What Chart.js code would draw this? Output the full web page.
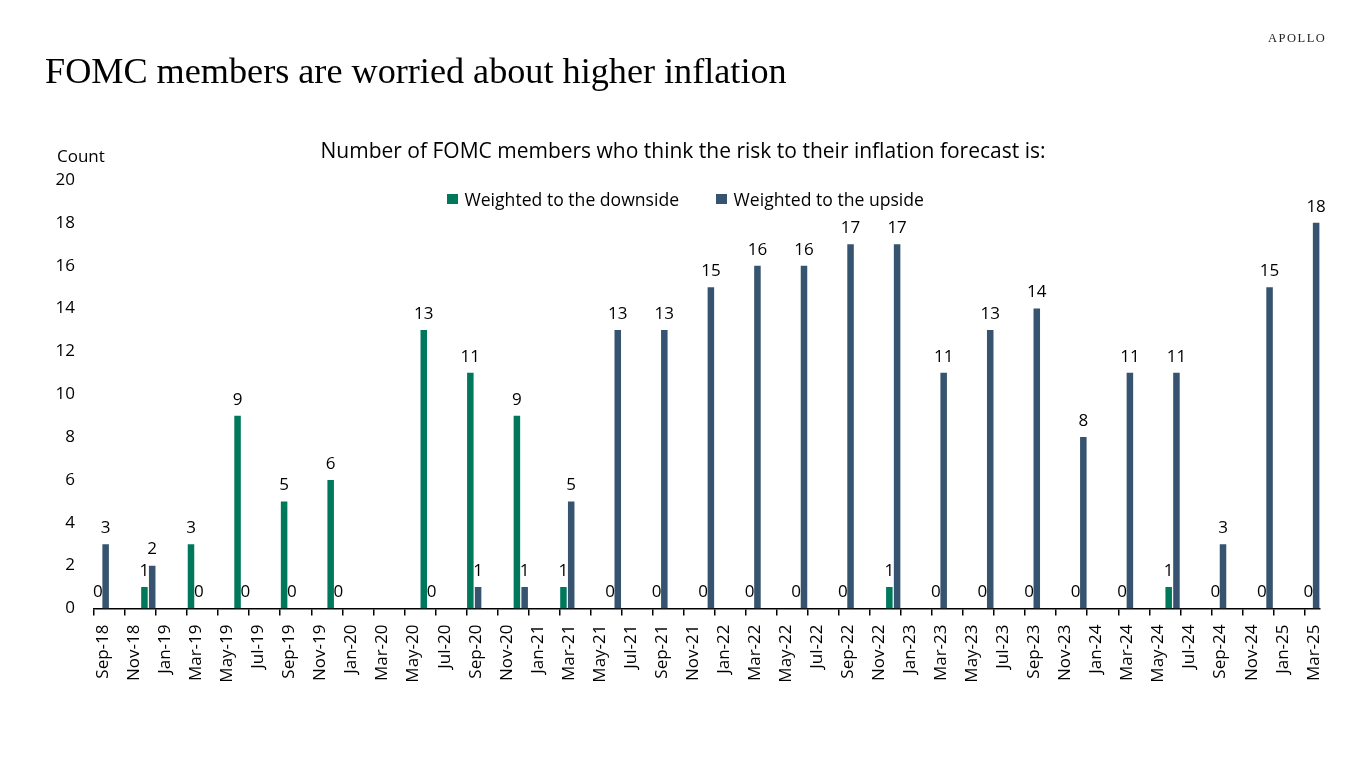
<!DOCTYPE html>
<html><head><meta charset="utf-8">
<script src="https://cdn.jsdelivr.net/npm/chart.js@4.4.1/dist/chart.umd.min.js"></script>
<style>
html,body{margin:0;padding:0;background:#fff;}
#wrap{position:relative;width:1366px;height:768px;overflow:hidden;background:#fff;}
#c{position:absolute;left:0;top:0;}
.t{position:absolute;white-space:nowrap;color:#000;line-height:1;}
#title{left:45px;top:53px;font-family:'Liberation Serif',serif;font-size:36.2px;}
#brand{left:1268px;top:32px;font-family:'Liberation Serif',serif;font-size:12.5px;letter-spacing:1.5px;color:#222;}
#count{left:57px;top:147px;font-family:'Open Sans',sans-serif;font-size:17px;}
#sub{left:0;width:1366px;text-align:center;top:140px;font-family:'Open Sans',sans-serif;font-size:21px;}
#legend{position:absolute;left:447px;top:189px;display:flex;align-items:center;font-family:'Open Sans',sans-serif;font-size:17.6px;line-height:20px;}
#legend .it{display:flex;align-items:center;margin-right:37px;}
#legend .sw{width:10.5px;height:10.5px;margin-right:7px;}
</style></head>
<body><div id="wrap">
<canvas id="c" width="1366" height="768"></canvas>
<div class="t" id="brand">APOLLO</div>
<div class="t" id="title">FOMC members are worried about higher inflation</div>
<div class="t" id="count">Count</div>
<div class="t" id="sub">Number of FOMC members who think the risk to their inflation forecast is:</div>
<div id="legend"></div>
</div>
<script>
const months = [
 'Sep-18','Oct-18','Nov-18','Dec-18',
 'Jan-19','Feb-19','Mar-19','Apr-19','May-19','Jun-19','Jul-19','Aug-19','Sep-19','Oct-19','Nov-19','Dec-19',
 'Jan-20','Feb-20','Mar-20','Apr-20','May-20','Jun-20','Jul-20','Aug-20','Sep-20','Oct-20','Nov-20','Dec-20',
 'Jan-21','Feb-21','Mar-21','Apr-21','May-21','Jun-21','Jul-21','Aug-21','Sep-21','Oct-21','Nov-21','Dec-21',
 'Jan-22','Feb-22','Mar-22','Apr-22','May-22','Jun-22','Jul-22','Aug-22','Sep-22','Oct-22','Nov-22','Dec-22',
 'Jan-23','Feb-23','Mar-23','Apr-23','May-23','Jun-23','Jul-23','Aug-23','Sep-23','Oct-23','Nov-23','Dec-23',
 'Jan-24','Feb-24','Mar-24','Apr-24','May-24','Jun-24','Jul-24','Aug-24','Sep-24','Oct-24','Nov-24','Dec-24',
 'Jan-25','Feb-25','Mar-25'
];
const meetings = ['Sep-18','Dec-18','Mar-19','Jun-19','Sep-19','Dec-19','Jun-20','Sep-20','Dec-20','Mar-21','Jun-21','Sep-21','Dec-21','Mar-22','Jun-22','Sep-22','Dec-22','Mar-23','Jun-23','Sep-23','Dec-23','Mar-24','Jun-24','Sep-24','Dec-24','Mar-25'];
const downside = [0,1,3,9,5,6,13,11,9,1,0,0,0,0,0,0,1,0,0,0,0,0,1,0,0,0];
const upside   = [3,2,0,0,0,0,0,1,1,5,13,13,15,16,16,17,17,11,13,14,8,11,11,3,15,18];
const seriesNames = ['Weighted to the downside','Weighted to the upside'];
const seriesColors = ['#00785C','#36536F'];
const yTicks = [0,2,4,6,8,10,12,14,16,18,20];

const toPoints = vals => meetings.map((m,i)=>({x:m,y:vals[i]}));

const labelPlugin = {
  id:'valueLabels',
  afterDatasetsDraw(chart){
    const ctx = chart.ctx;
    ctx.save();
    ctx.font = '17px "Open Sans"';
    ctx.fillStyle = '#000';
    ctx.textAlign = 'center';
    ctx.textBaseline = 'middle';
    chart.data.datasets.forEach((ds,di)=>{
      const meta = chart.getDatasetMeta(di);
      meta.data.forEach((el,i)=>{
        const v = ds.data[i].y;
        ctx.fillText(String(v), el.x, el.y - 16);
      });
    });
    ctx.restore();
  }
};

const chart = new Chart(document.getElementById('c'), {
  type:'bar',
  data:{
    labels: months,
    datasets:[
      {label:seriesNames[0], data:toPoints(downside), backgroundColor:seriesColors[0], barPercentage:0.84, categoryPercentage:1.0},
      {label:seriesNames[1], data:toPoints(upside), backgroundColor:seriesColors[1], barPercentage:0.84, categoryPercentage:1.0}
    ]
  },
  options:{
    responsive:false,
    animation:false,
    layout:{padding:{top:180,left:0,right:46,bottom:0}},
    plugins:{legend:{display:false},tooltip:{enabled:false},title:{display:false}},
    scales:{
      x:{
        type:'category',
        offset:true,
        grid:{display:true, offset:true, drawOnChartArea:false, drawTicks:true, tickLength:7,
          lineWidth:1.5,
          color: c => (c.index !== undefined && c.index % 2 === 0) ? '#000' : 'rgba(0,0,0,0)'},
        border:{display:true,color:'#000',width:1.5},
        ticks:{autoSkip:false,maxRotation:90,minRotation:90,padding:9,labelOffset:1.5,color:'#000',
          font:{family:'Open Sans',size:17},
          callback:function(v,i){ return i % 2 === 0 ? this.getLabelForValue(v) : ''; }},
        afterFit: s => { s.height = 159.5; }
      },
      y:{
        min:0,max:20,
        afterBuildTicks: s => { s.ticks = yTicks.map(v=>({value:v})); },
        grid:{display:false,drawTicks:false},
        border:{display:false},
        ticks:{padding:19,color:'#000',font:{family:'Open Sans',size:17}},
        afterFit: s => { s.width = 94; }
      }
    }
  },
  plugins:[labelPlugin]
});

const lg = document.getElementById('legend');
chart.data.datasets.forEach(ds=>{
  const it = document.createElement('div'); it.className='it';
  const sw = document.createElement('div'); sw.className='sw'; sw.style.background = ds.backgroundColor;
  const tx = document.createElement('span'); tx.textContent = ds.label;
  it.appendChild(sw); it.appendChild(tx); lg.appendChild(it);
});
</script>
</body></html>
